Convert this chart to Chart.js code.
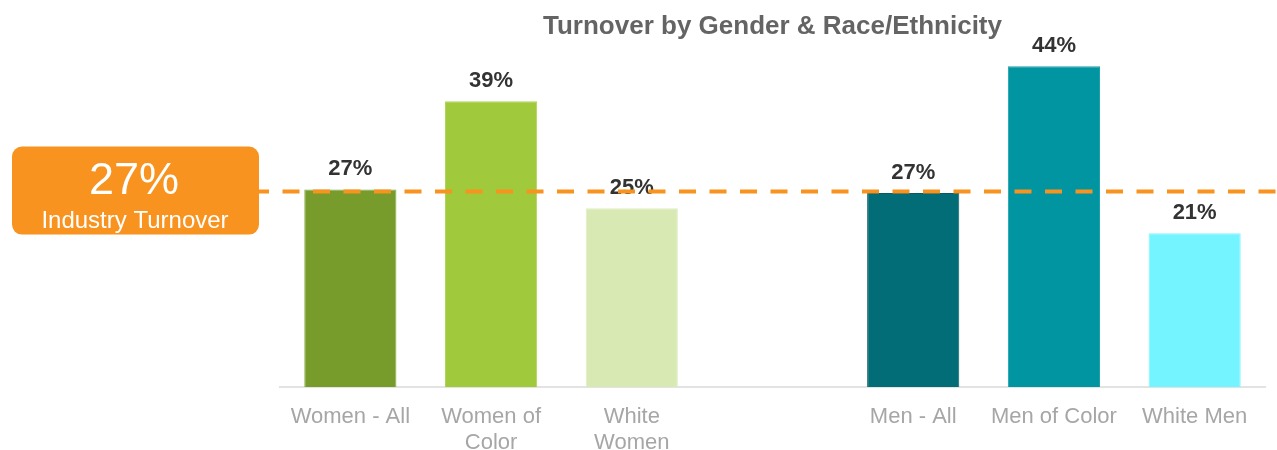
<!DOCTYPE html>
<html><head><meta charset="utf-8">
<script src="https://cdn.jsdelivr.net/npm/chart.js@4.4.1/dist/chart.umd.min.js"></script>
<style>html,body{margin:0;padding:0;background:#fff}#wrap{width:1277px;height:450px;position:relative}</style>
</head><body><div id="wrap"><canvas id="c"></canvas></div>
<script>
const categories = [["Women - All"], ["Women of", "Color"], ["White", "Women"], "", ["Men - All"], ["Men of Color"], ["White Men"]];
const turnover = [27.1, 39.2, 24.5, null, 26.6, 44.0, 21.1];
const valueLabels = ["27%", "39%", "25%", "", "27%", "44%", "21%"];
const industryTurnover = 26.8;
const industryLabel = "27%";
const industryCaption = "Industry Turnover";
const chartTitle = "Turnover by Gender & Race/Ethnicity";
const barColors = ["#779c2b", "#a0c93b", "#d8e9b4", "#ffffff", "#026d77", "#0095a0", "#74f4ff"];
const barBorders = ["#86a93f", "#b0d456", "#e0eec4", "#ffffff", "#0b5a62", "#1aa0aa", "#86f6ff"];

const FONT = '"Liberation Sans", Arial, sans-serif';
const ORANGE = '#f7931e';

const overlay = {
  id: 'overlay',
  afterDatasetsDraw(chart) {
    const ctx = chart.ctx;
    const meta = chart.getDatasetMeta(0);
    const area = chart.chartArea;
    ctx.save();
    // value labels
    ctx.font = 'bold 22px ' + FONT;
    ctx.fillStyle = '#333333';
    ctx.textAlign = 'center';
    ctx.textBaseline = 'middle';
    meta.data.forEach((bar, i) => {
      if (turnover[i] == null) return;
      ctx.fillText(valueLabels[i], bar.x, bar.y - 20);
    });
    // title
    ctx.font = 'bold 26px ' + FONT;
    ctx.fillStyle = '#646464';
    ctx.fillText(chartTitle, (area.left + area.right) / 2, 27);
    // industry line
    const y = chart.scales.y.getPixelForValue(industryTurnover);
    ctx.strokeStyle = ORANGE;
    ctx.lineWidth = 4;
    ctx.setLineDash([17, 13.5]);
    ctx.beginPath();
    ctx.moveTo(252, y);
    ctx.lineTo(chart.width, y);
    ctx.stroke();
    ctx.setLineDash([]);
    // industry box
    ctx.fillStyle = ORANGE;
    ctx.beginPath();
    ctx.roundRect(12, y - 45, 247, 88, 10);
    ctx.fill();
    ctx.fillStyle = '#ffffff';
    ctx.textBaseline = 'alphabetic';
    ctx.font = '45px ' + FONT;
    ctx.fillText(industryLabel, 134, y + 2);
    ctx.font = '24px ' + FONT;
    ctx.fillText(industryCaption, 135, y + 36);
    ctx.restore();
  }
};

new Chart(document.getElementById('c'), {
  type: 'bar',
  data: {
    labels: categories,
    datasets: [{
      data: turnover,
      backgroundColor: barColors,
      borderColor: barBorders,
      borderWidth: 1,
      barPercentage: 0.655,
      categoryPercentage: 1.0
    }]
  },
  options: {
    responsive: true,
    maintainAspectRatio: false,
    animation: false,
    layout: { padding: { left: 280, right: 12, top: 37, bottom: 0 } },
    plugins: { legend: { display: false }, title: { display: false }, tooltip: { enabled: false } },
    scales: {
      y: { display: false, min: 0, max: 48 },
      x: {
        afterFit: (s) => { s.height = 63; },
        grid: { display: true, drawOnChartArea: false, drawTicks: false },
        border: { display: true, color: '#e3e3e3', width: 2 },
        ticks: { color: '#a6a6a6', padding: 17, maxRotation: 0, autoSkip: false,
                 font: { family: FONT, size: 22, lineHeight: 1.18 } }
      }
    }
  },
  plugins: [overlay]
});
</script>
</body></html>
